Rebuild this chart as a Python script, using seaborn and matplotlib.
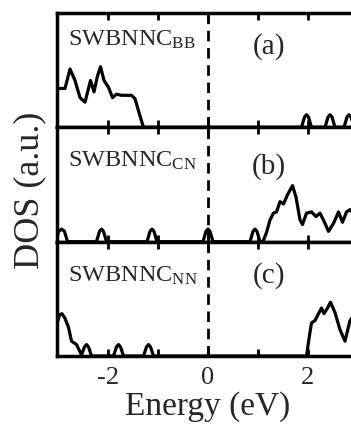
import matplotlib
matplotlib.use("Agg")
import matplotlib.pyplot as plt
import seaborn as sns
import pandas as pd

# ---- data ----
energy_a = [-3.02, -2.96, -2.86, -2.76, -2.66, -2.56, -2.46, -2.39, -2.35, -2.28, -2.21,
            -2.15, -2.08, -1.99, -1.91, -1.83, -1.73, -1.53, -1.46, -1.36, -1.29,
            1.87, 1.93, 1.97, 2.01, 2.07, 2.34, 2.40, 2.44, 2.48, 2.54,
            2.72, 2.78, 2.82, 2.86, 2.92, 3.0]
dos_a = [0.34, 0.34, 0.34, 0.51, 0.41, 0.26, 0.22, 0.34, 0.41, 0.31, 0.45,
         0.53, 0.41, 0.35, 0.26, 0.29, 0.28, 0.28, 0.25, 0.10, 0.0,
         0.0, 0.09, 0.11, 0.09, 0.0, 0.0, 0.09, 0.11, 0.09, 0.0,
         0.0, 0.09, 0.11, 0.09, 0.0, 0.0]

energy_b = [-3.02, -2.99, -2.93, -2.87, -2.81, -2.23, -2.17, -2.13, -2.09, -2.03,
            -1.22, -1.16, -1.12, -1.08, -1.02, -0.10, -0.04, 0.0, 0.04, 0.10,
            0.84, 0.90, 0.94, 0.98, 1.04, 1.10, 1.17, 1.24, 1.31, 1.37, 1.44, 1.51,
            1.59, 1.64, 1.69, 1.76, 1.84, 1.89, 1.97, 2.07, 2.16, 2.24, 2.33,
            2.41, 2.51, 2.61, 2.69, 2.77, 2.84, 2.92, 3.0]
dos_b = [0.03, 0.09, 0.11, 0.09, 0.0, 0.0, 0.09, 0.11, 0.09, 0.0,
         0.0, 0.09, 0.11, 0.09, 0.0, 0.0, 0.09, 0.11, 0.09, 0.0,
         0.0, 0.09, 0.11, 0.09, 0.0, 0.0, 0.08, 0.19, 0.25, 0.26, 0.35, 0.33,
         0.41, 0.45, 0.49, 0.39, 0.19, 0.15, 0.25, 0.26, 0.22, 0.25, 0.17,
         0.09, 0.16, 0.26, 0.17, 0.26, 0.28, 0.24, 0.27]

energy_c = [-3.02, -2.97, -2.92, -2.86, -2.79, -2.73, -2.63, -2.53, -2.47, -2.43, -2.39,
            -2.33, -1.89, -1.83, -1.79, -1.75, -1.69, -1.29, -1.23, -1.19, -1.15,
            -1.09, 1.97, 2.03, 2.07, 2.14, 2.21, 2.27, 2.32, 2.39, 2.45, 2.54,
            2.64, 2.74, 2.84, 2.92, 3.0]
dos_c = [0.28, 0.36, 0.37, 0.33, 0.25, 0.13, 0.10, 0.01, 0.08, 0.10, 0.08,
         0.0, 0.0, 0.08, 0.10, 0.08, 0.0, 0.0, 0.08, 0.10, 0.08,
         0.0, 0.0, 0.18, 0.29, 0.31, 0.37, 0.42, 0.37, 0.42, 0.47, 0.38,
         0.23, 0.13, 0.31, 0.36, 0.33]

panel_names = ["SWBNNC$_{\\rm BB}$", "SWBNNC$_{\\rm CN}$", "SWBNNC$_{\\rm NN}$"]
panel_tags = ["(a)", "(b)", "(c)"]
tick_vals = [-2, 0, 2]
tick_labels = ["-2", "0", "2"]
minor_vals = [-1, 1, 3]

# ---- style ----
sns.set_theme(style="white")
plt.rcParams["font.family"] = ["Liberation Serif", "DejaVu Serif"]
plt.rcParams["mathtext.fontset"] = "custom"
plt.rcParams["mathtext.rm"] = "Liberation Serif"
plt.rcParams["mathtext.it"] = "Liberation Serif:italic"
plt.rcParams["axes.unicode_minus"] = False

fig = plt.figure(figsize=(3.51, 4.32), dpi=100)
left, bottom, width = 57 / 351, 76 / 432, 301 / 351
panel_h = (343 / 432) / 3

series = [(energy_a, dos_a), (energy_b, dos_b), (energy_c, dos_c)]
name_y = [0.717, 0.654, 0.65]
tag_y = [0.71, 0.66, 0.70]

axes = []
for i, (ex, dy) in enumerate(series):
    ax = fig.add_axes([left, bottom + (2 - i) * panel_h, width, panel_h])
    axes.append(ax)
    df = pd.DataFrame({"Energy": ex, "DOS": dy})
    sns.lineplot(data=df, x="Energy", y="DOS", ax=ax, color="black",
                 linewidth=2.3, sort=False, estimator=None, clip_on=True)
    ax.axvline(0, color="black", linewidth=2.0, dashes=(3.8, 2.4), zorder=1)
    ax.set_xlim(-3.02, 3.0)
    ax.set_ylim(0, 1)
    ax.set_yticks([])
    ax.set_xticks(tick_vals)
    ax.set_xticks(minor_vals, minor=True)
    ax.tick_params(axis="x", which="both", direction="in", top=True, bottom=True,
                   length=5, width=2.0, color="black", pad=8, labelsize=19)
    if i < 2:
        ax.set_xticklabels([])
    else:
        ax.set_xticklabels(tick_labels)
    for s in ax.spines.values():
        s.set_linewidth(2.5)
        s.set_color("black")
    ax.set_xlabel("")
    ax.set_ylabel("")
    ax.text(0.036, name_y[i], panel_names[i], transform=ax.transAxes,
            fontsize=17.5, ha="left", va="baseline")
    ax.text(0.705, tag_y[i], panel_tags[i], transform=ax.transAxes,
            fontsize=21, ha="center", va="center")

fig.text(208 / 351, (432 - 415) / 432, "Energy (eV)", fontsize=24,
         ha="center", va="baseline")
fig.text(30 / 351, (432 - 190) / 432, "DOS (a.u.)", rotation=90,
         fontsize=26, ha="center", va="center")

fig.savefig("out.png", dpi=100)
